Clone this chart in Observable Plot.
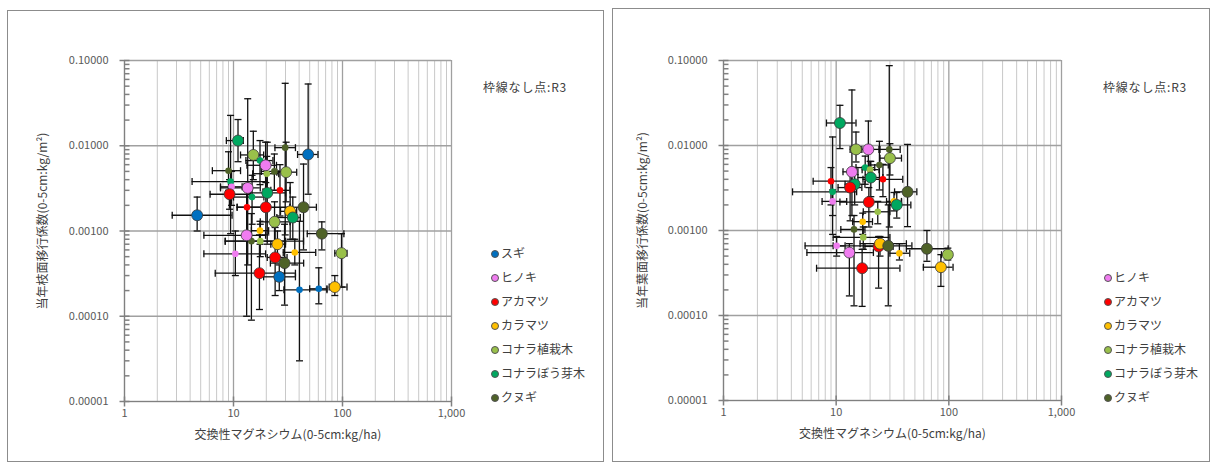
<!DOCTYPE html>
<html><head><meta charset="utf-8">
<script src="https://cdn.jsdelivr.net/npm/d3@7"></script>
<script src="https://cdn.jsdelivr.net/npm/@observablehq/plot@0.6"></script>
<style>
body{margin:0;background:#fff;font-family:"Noto Sans CJK JP","Noto Sans",sans-serif;}
#page{position:relative;width:1213px;height:468px;overflow:hidden;background:#fff}
.panel{position:absolute;border:1px solid #8c8c8c;box-sizing:border-box;background:#fff}
.panel svg{position:absolute;left:0;top:0}
.note,.leg{position:absolute;font-size:12px;color:#404040;white-space:nowrap;line-height:14px}
.note{letter-spacing:0.8px}
.leg i{display:inline-block;width:6px;height:6px;border-radius:50%;margin-right:2px;vertical-align:0px;border:0.6px solid #555}
</style></head><body><div id="page"></div><script>
// ---- categories ----
const speciesNames = ["スギ","ヒノキ","アカマツ","カラマツ","コナラ植栽木","コナラぼう芽木","クヌギ"];
const speciesColors = ["#0070C0","#F07CF0","#FF0000","#FFC000","#99C04A","#00A860","#4F6228"];
// ---- tick labels ----
const xMajor = [1,10,100,1000];
const yMajor = [0.00001,0.0001,0.001,0.01,0.1];
const xLabel = "交換性マグネシウム(0-5cm:kg/ha)";
const yLabelLeft = "当年枝面移行係数(0-5cm:kg/m²)";
const yLabelRight = "当年葉面移行係数(0-5cm:kg/m²)";
const noteText = "枠線なし点:R3";

// ---- left panel (枝) : species index, Mg, TF, error ranges, framed (1) or R3 (0) ----
const leftSp = [5,4,1,4,1,5,2,6,3,5,4,0,0,1,3,6,4,6,3,4,1,3,2,6,2,0,0,0,3,6,5,1,2,2,5,2,4,6,6,5];
const leftMg = [11.0,15.2,19.7,30.4,13.5,20.4,19.8,43.9,33.1,35,23.8,4.64,48.4,13.2,17.5,64.6,17.6,14.6,25.3,97.9,10.4,36.5,24.1,29.4,17.3,26.3,40.3,60.6,85,9.0,9.4,9.6,9.2,13.3,14.8,26.7,20.2,23.7,29.8,17.5];
const leftTF = [0.0115,0.0078,0.0059,0.0049,0.0032,0.0028,0.0019,0.0019,0.0017,0.00144,0.00128,0.00153,0.0079,0.00089,0.00101,0.00093,0.00076,0.00076,0.0007,0.00055,0.00054,0.00056,0.00049,0.00042,0.00032,0.00029,0.000204,0.00021,0.00022,0.0051,0.0038,0.0033,0.0027,0.0019,0.0025,0.003,0.0047,0.005,0.0095,0.0067];
const leftMgLo = [8.6,11.6,13.3,25,7.6,14,10.8,33,27,25,17.6,2.74,38.7,5.35,14.6,47.5,8.4,8.4,22,85,5.35,28.6,20.4,21.8,6.8,18.9,29,50,75.5,6.4,4.17,7.6,6.1,10.8,10,22,15,18,24,13];
const leftMgHi = [12.3,18.9,24.8,38,17.6,30,33,57.6,38,41,33,9.7,59.6,19.7,21,103,43.9,30,30,110,19.7,56.8,31,44,37,37,72,72,110,11.6,20.4,12,14.3,20,19,33,26,30,37,23];
const leftTFLo = [0.0065,0.004,0.0031,0.0022,0.0004,0.0007,0.0009,0.0006,0.0008,0.0008,0.0007,0.001,0.0027,0.0001,0.0007,0.0006,0.0005,0.00009,0.0005,0.00022,0.0003,0.0004,0.000175,0.000135,0.00012,0.0002,0.00003,0.00014,0.000175,0.003,0.00093,0.002,0.0018,0.0009,0.0012,0.0015,0.0028,0.003,0.0009,0.0035];
const leftTFHi = [0.0203,0.0148,0.011,0.011,0.0356,0.011,0.0037,0.0061,0.0037,0.0025,0.0022,0.0025,0.053,0.0031,0.0013,0.00128,0.0012,0.0016,0.001,0.00093,0.001,0.0008,0.0011,0.0012,0.0009,0.0004,0.0013,0.00037,0.0003,0.0085,0.0227,0.005,0.004,0.0036,0.0045,0.006,0.0075,0.008,0.054,0.0115];
const leftFramed = [1,1,1,1,1,1,1,1,1,1,1,1,1,1,0,1,0,0,1,1,0,0,1,1,1,1,0,0,1,0,0,0,1,0,0,0,0,0,0,0];

// ---- right panel (葉) ----
const rightSp = [5,4,1,6,4,1,5,4,6,5,2,2,5,2,6,5,1,2,3,5,4,3,6,4,1,2,3,6,6,3,4,3,1,2];
const rightMg = [10.8,15,19.3,29.6,30,13.8,18.1,20,24.2,20.3,26,9,14.6,13.3,43,9.3,9.3,19.5,32.6,34.5,23.4,17.2,14.4,17.4,10.1,23.8,24.5,29,63.9,36.4,98,85,13.1,17];
const rightTF = [0.0184,0.009,0.009,0.009,0.0071,0.0049,0.0055,0.0052,0.0059,0.0042,0.004,0.0038,0.0035,0.0032,0.00285,0.00285,0.0022,0.00216,0.0022,0.002,0.00166,0.00127,0.00103,0.00083,0.00066,0.00065,0.0007,0.00066,0.00061,0.00054,0.00052,0.00037,0.00055,0.00036];
const rightMgLo = [8.2,13.3,16.3,24,24.5,11.5,15,17,20,15.6,17.3,6.25,12,10.4,33,4.1,7.5,10.8,28,30,17.4,14,11,9.4,5.3,18,16.3,9.4,42,30,86,59.4,5.5,6.7];
const rightMgHi = [15,16.9,24.5,37,38,15.6,22,24,29,26,39,13.8,18,16.9,52,15.2,12.4,38,38,46,30,21,18,30,12,32,42,47,98.6,45,106,109,21.4,36.8];
const rightTFLo = [0.0092,0.0064,0.0045,0.0011,0.0045,0.0015,0.0035,0.004,0.003,0.0025,0.0025,0.002,0.002,0.0013,0.00111,0.0009,0.0015,0.0011,0.0017,0.0014,0.0012,0.0009,0.00013,0.0006,0.0005,0.00021,0.0005,0.00013,0.000434,0.00045,0.00045,0.00022,0.00017,0.000128];
const rightTFHi = [0.0297,0.0144,0.0194,0.087,0.0105,0.045,0.0075,0.0065,0.0112,0.0065,0.006,0.0055,0.0055,0.005,0.0103,0.0126,0.003,0.0032,0.0028,0.0028,0.0022,0.0016,0.0015,0.0011,0.00085,0.00085,0.00085,0.002,0.001,0.0007,0.00062,0.00052,0.0007,0.0006];
const rightFramed = [1,1,1,0,1,1,0,0,0,1,0,0,1,1,1,0,0,1,0,1,0,0,0,0,0,1,1,1,1,0,1,1,1,1];

// gridline positions (2..9 within each decade)
const xMinor = xMajor.slice(0,3).flatMap(d => [2,3,4,5,6,7,8,9].map(m => m*d));
const yMinor = yMajor.slice(0,4).flatMap(d => [2,3,4,5,6,7,8,9].map(m => m*d));

const FONT = '"Noto Sans CJK JP","Noto Sans",sans-serif';
const vTick = h => ({draw(ctx){ctx.moveTo(0,-h);ctx.lineTo(0,h);}});
const hTick = h => ({draw(ctx){ctx.moveTo(-h,0);ctx.lineTo(h,0);}});

function panel(o){
  const rows = o.sp.map((s,i)=>({sp:speciesNames[s], x:o.mg[i], y:o.tf[i], xlo:o.mgLo[i], xhi:o.mgHi[i], ylo:o.tfLo[i], yhi:o.tfHi[i], framed:o.framed[i]}));
  const eb = {stroke:"#111", strokeWidth:1.3};
  const chart = Plot.plot({
    width:o.w, height:o.h, marginLeft:o.mL, marginRight:o.mR, marginTop:o.mT, marginBottom:o.mB,
    x:{type:"log", domain:[1,1000]},
    y:{type:"log", domain:[1e-5,0.1]},
    color:{domain:speciesNames, range:speciesColors},
    style:{fontFamily:FONT, background:"transparent", overflow:"visible"},
    marks:[
      Plot.ruleX(xMinor, {stroke:"#c8c8c8", strokeWidth:1}),
      Plot.ruleX(xMajor, {stroke:"#a0a0a0", strokeWidth:1.3}),
      Plot.ruleY(yMajor, {stroke:"#a0a0a0", strokeWidth:1.6}),
      Plot.ruleX([1], {stroke:"#808080", strokeWidth:1.2}),
      Plot.ruleY([1e-5], {stroke:"#808080", strokeWidth:1.2}),
      Plot.dot(yMajor, {x:()=>1, y:d=>d, symbol:hTick(5), stroke:"#808080", fill:"none"}),
      Plot.dot(yMinor, {x:()=>1, y:d=>d, symbol:hTick(2.5), dx:2.5, stroke:"#808080", fill:"none"}),
      Plot.dot(xMajor, {x:d=>d, y:()=>1e-5, symbol:vTick(5), stroke:"#808080", fill:"none"}),
      Plot.axisY({ticks:yMajor, tickFormat:d3.format(".5f"), tickSize:0, tickPadding:16, fontSize:11, color:"#595959", label:null}),
      Plot.axisX({ticks:xMajor, tickFormat:d3.format(","), tickSize:0, tickPadding:8, fontSize:11, color:"#595959", label:null}),
      Plot.text([o.ylabel], {text:d=>d, frameAnchor:"left", textAnchor:"middle", lineAnchor:"middle", rotate:-90, dx:o.ylDx, dy:-10, fontSize:12, fill:"#404040"}),
      Plot.text([xLabel], {text:d=>d, frameAnchor:"bottom", textAnchor:"middle", lineAnchor:"middle", dy:34, fontSize:12, fill:"#404040"}),
      Plot.ruleY(rows, {y:"y", x1:"xlo", x2:"xhi", ...eb}),
      Plot.ruleX(rows, {x:"x", y1:"ylo", y2:"yhi", ...eb}),
      Plot.dot(rows, {x:"xlo", y:"y", symbol:vTick(3.5), fill:"none", ...eb}),
      Plot.dot(rows, {x:"xhi", y:"y", symbol:vTick(3.5), fill:"none", ...eb}),
      Plot.dot(rows, {x:"x", y:"ylo", symbol:hTick(3.5), fill:"none", ...eb}),
      Plot.dot(rows, {x:"x", y:"yhi", symbol:hTick(3.5), fill:"none", ...eb}),
      Plot.dot(rows.filter(d=>!d.framed), {x:"x", y:"y", r:3.3, fill:"sp"}),
      Plot.dot(rows.filter(d=>d.framed), {x:"x", y:"y", r:5.5, fill:"sp", stroke:"#3a3a3a", strokeWidth:0.8})
    ]
  });
  const div = document.createElement("div");
  div.className = "panel";
  Object.assign(div.style, {left:o.left+"px", top:o.top+"px", width:o.bw+"px", height:o.bh+"px"});
  div.appendChild(chart);
  page.appendChild(div);
  const note = document.createElement("div");
  note.className = "note"; note.textContent = noteText;
  Object.assign(note.style, {left:o.noteX+"px", top:(o.noteY-7)+"px"});
  page.appendChild(note);
  o.legend.forEach((s,k)=>{
    const it = document.createElement("div");
    it.className = "leg";
    it.innerHTML = `<i style="background:${speciesColors[s]}"></i>${speciesNames[s]}`;
    Object.assign(it.style, {left:o.legX+"px", top:(o.legY0 + k*24 - 7)+"px"});
    page.appendChild(it);
  });
}
const page = document.getElementById("page");
panel({left:7, top:10, bw:597, bh:452, w:595, h:450, mL:116, mR:152, mT:49, mB:60, ylDx:-81,
  sp:leftSp, mg:leftMg, tf:leftTF, mgLo:leftMgLo, mgHi:leftMgHi, tfLo:leftTFLo, tfHi:leftTFHi, framed:leftFramed,
  ylabel:yLabelLeft, noteX:483, noteY:87, legend:[0,1,2,3,4,5,6], legX:491, legY0:253});
panel({left:612, top:8, bw:598, bh:454, w:596, h:452, mL:110, mR:148, mT:51, mB:61, ylDx:-80,
  sp:rightSp, mg:rightMg, tf:rightTF, mgLo:rightMgLo, mgHi:rightMgHi, tfLo:rightTFLo, tfHi:rightTFHi, framed:rightFramed,
  ylabel:yLabelRight, noteX:1103, noteY:87, legend:[1,2,3,4,5,6], legX:1104, legY0:277});
</script></body></html>
